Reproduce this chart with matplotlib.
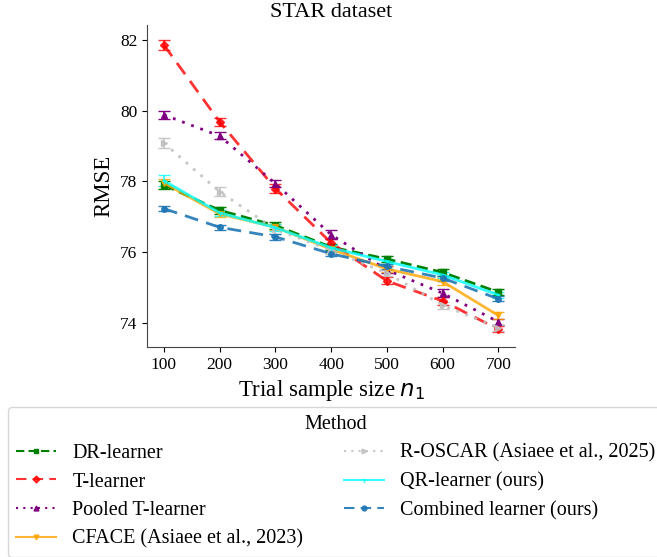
import numpy as np
import matplotlib.pyplot as plt

plt.rcParams["font.family"] = ["Liberation Serif", "DejaVu Serif"]

# Trial sizes and mean RMSE for each method
n1 = [100, 200, 300, 400, 500, 600, 700]

dr_learner = [77.90, 77.18, 76.75, 76.14, 75.80, 75.42, 74.86]
t_learner = [81.87, 79.69, 77.80, 76.26, 75.18, 74.61, 73.81]
pooled_t = [79.89, 79.29, 77.94, 76.49, 75.49, 74.83, 74.02]
cface = [77.96, 77.08, 76.70, 76.08, 75.52, 75.16, 74.20]
r_oscar = [79.09, 77.71, 76.64, 76.05, 75.40, 74.49, 73.85]
qr_learner = [78.02, 77.11, 76.69, 76.12, 75.73, 75.35, 74.78]
combined = [77.23, 76.70, 76.43, 75.95, 75.59, 75.26, 74.67]

# Standard errors
dr_err = [0.10, 0.09, 0.09, 0.08, 0.09, 0.09, 0.08]
t_err = [0.15, 0.12, 0.12, 0.11, 0.10, 0.11, 0.09]
pooled_err = [0.12, 0.10, 0.11, 0.12, 0.10, 0.12, 0.08]
cface_err = [0.10, 0.09, 0.09, 0.08, 0.08, 0.10, 0.09]
r_oscar_err = [0.15, 0.12, 0.12, 0.10, 0.09, 0.10, 0.08]
qr_err = [0.15, 0.09, 0.09, 0.08, 0.08, 0.09, 0.08]
comb_err = [0.07, 0.07, 0.08, 0.07, 0.07, 0.07, 0.07]

labels = ["DR-learner", "T-learner", "Pooled T-learner", "CFACE (Asiaee et al., 2023)",
          "R-OSCAR (Asiaee et al., 2025)", "QR-learner (ours)", "Combined learner (ours)"]
means = [dr_learner, t_learner, pooled_t, cface, r_oscar, qr_learner, combined]
errs = [dr_err, t_err, pooled_err, cface_err, r_oscar_err, qr_err, comb_err]
colors = ["green", "red", "purple", "orange", "silver", "cyan", "#1f77b4"]
styles = [(0, (4, 2)), (0, (5, 3)), (0, (1, 2.5)), "-", (0, (1, 2.5)), "-", (0, (5, 3))]
markers = ["s", "D", "^", "v", ">", "1", "o"]
alphas = [1, 0.8, 1, 0.8, 0.9, 0.8, 0.9]

fig = plt.figure(figsize=(6.57, 5.57), dpi=100)
ax = fig.add_axes([0.224, 0.377, 0.56, 0.578])

handles = []
for y, e, lab, c, ls, m, a in zip(means, errs, labels, colors, styles, markers, alphas):
    eb = ax.errorbar(n1, y, yerr=e, label=lab, color=c, linestyle=ls, marker=m,
                     markersize=4, linewidth=2, capsize=4, elinewidth=1.2, alpha=a)
    handles.append(eb.lines[0])

ax.set_xticks(n1)
ax.set_yticks([74, 76, 78, 80, 82])
ax.tick_params(labelsize=12.5)
ax.set_title("STAR dataset", fontsize=16)
ax.set_xlabel("Trial sample size $n_1$", fontsize=16.5)
ax.set_ylabel("RMSE", fontsize=16.5)
ax.spines["top"].set_visible(False)
ax.spines["right"].set_visible(False)
for s in ["left", "bottom"]:
    ax.spines[s].set_color("#444444")

leg = fig.legend(handles, labels, title="Method", loc="upper left",
                 bbox_to_anchor=(0.012, 0.269), borderaxespad=0, ncol=2,
                 fontsize=14.5, title_fontsize=14.5, handlelength=2.0, columnspacing=2.0,
                 labelspacing=0.47, edgecolor="#cccccc")
for h in leg.legend_handles:
    h.set_linewidth(1.5)
    h.set_markersize(3.5)

plt.savefig("out.png", dpi=100)
